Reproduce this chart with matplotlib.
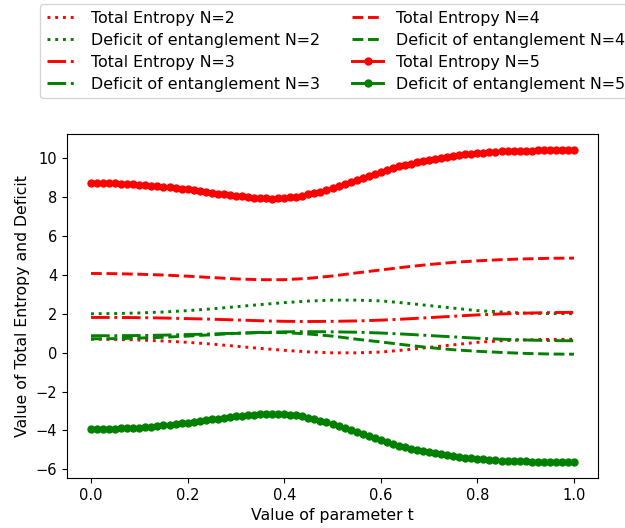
import matplotlib
matplotlib.use("Agg")
import matplotlib.pyplot as plt
import numpy as np

# parametr t (co 0.05 dla linii, co 0.0125 dla serii z markerami)
t = np.linspace(0, 1, 21)
t_fine = np.linspace(0, 1, 81)

total_n2 = [0.69, 0.68, 0.65, 0.60, 0.53, 0.44, 0.33, 0.22, 0.12, 0.04, -0.01,
            -0.01, 0.03, 0.14, 0.27, 0.40, 0.53, 0.61, 0.66, 0.68, 0.69]
deficit_n2 = [2.00, 2.01, 2.04, 2.09, 2.16, 2.25, 2.36, 2.47, 2.57, 2.65, 2.70,
              2.70, 2.66, 2.55, 2.42, 2.29, 2.16, 2.09, 2.03, 2.01, 2.00]

total_n3 = [1.81, 1.81, 1.80, 1.78, 1.75, 1.72, 1.68, 1.64, 1.61, 1.60, 1.61,
            1.63, 1.67, 1.73, 1.80, 1.87, 1.94, 1.99, 2.03, 2.06, 2.07]
deficit_n3 = [0.87, 0.87, 0.88, 0.90, 0.93, 0.96, 1.00, 1.04, 1.07, 1.08, 1.07,
              1.05, 1.01, 0.95, 0.88, 0.81, 0.74, 0.69, 0.65, 0.62, 0.61]

total_n4 = [4.07, 4.06, 4.03, 3.99, 3.93, 3.86, 3.79, 3.75, 3.75, 3.82, 3.94,
            4.10, 4.25, 4.40, 4.53, 4.64, 4.72, 4.78, 4.82, 4.85, 4.86]
deficit_n4 = [0.71, 0.72, 0.75, 0.79, 0.85, 0.92, 0.99, 1.03, 1.03, 0.96, 0.85,
              0.69, 0.55, 0.40, 0.26, 0.15, 0.07, 0.01, -0.04, -0.07, -0.08]

total_n5 = [8.72, 8.72, 8.71, 8.71, 8.70, 8.68, 8.67, 8.66, 8.64, 8.61,
            8.59, 8.56, 8.53, 8.50, 8.46, 8.43, 8.39, 8.35, 8.31, 8.26,
            8.22, 8.18, 8.14, 8.10, 8.06, 8.03, 8.00, 7.97, 7.95, 7.93,
            7.92, 7.93, 7.95, 7.98, 8.02, 8.07, 8.13, 8.20, 8.28, 8.38,
            8.48, 8.58, 8.68, 8.79, 8.89, 8.99, 9.10, 9.20, 9.30, 9.39,
            9.48, 9.57, 9.65, 9.72, 9.79, 9.86, 9.92, 9.97, 10.02, 10.07,
            10.11, 10.15, 10.19, 10.22, 10.25, 10.28, 10.30, 10.32, 10.34, 10.35,
            10.36, 10.37, 10.38, 10.39, 10.40, 10.41, 10.41, 10.42, 10.42, 10.43,
            10.43]
deficit_n5 = [-3.93, -3.93, -3.92, -3.92, -3.91, -3.89, -3.88, -3.87, -3.85, -3.82,
              -3.80, -3.77, -3.74, -3.71, -3.67, -3.64, -3.60, -3.56, -3.52, -3.47,
              -3.43, -3.39, -3.35, -3.31, -3.27, -3.24, -3.21, -3.18, -3.16, -3.14,
              -3.13, -3.14, -3.16, -3.19, -3.23, -3.28, -3.34, -3.41, -3.49, -3.59,
              -3.69, -3.79, -3.89, -4.00, -4.10, -4.20, -4.31, -4.41, -4.51, -4.60,
              -4.69, -4.78, -4.86, -4.93, -5.00, -5.07, -5.13, -5.18, -5.23, -5.28,
              -5.32, -5.36, -5.40, -5.43, -5.46, -5.49, -5.51, -5.53, -5.55, -5.56,
              -5.57, -5.58, -5.59, -5.60, -5.61, -5.62, -5.62, -5.63, -5.63, -5.64,
              -5.64]

lw = 2.1
ms = 5

fig = plt.figure(figsize=(6.25, 5.28), dpi=100)
ax = fig.add_axes([0.107, 0.0947, 0.85, 0.6513])

ax.plot(t, total_n2, 'r:', lw=lw, label='Total Entropy N=2')
ax.plot(t, deficit_n2, 'g:', lw=lw, label='Deficit of entanglement N=2')
ax.plot(t, total_n3, 'r-.', lw=lw, label='Total Entropy N=3')
ax.plot(t, deficit_n3, 'g-.', lw=lw, label='Deficit of entanglement N=3')
ax.plot(t, total_n4, 'r--', lw=lw, label='Total Entropy N=4')
ax.plot(t, deficit_n4, 'g--', lw=lw, label='Deficit of entanglement N=4')
ax.plot(t_fine, total_n5, 'r-', lw=lw, marker='o', markersize=ms, label='Total Entropy N=5')
ax.plot(t_fine, deficit_n5, 'g-', lw=lw, marker='o', markersize=ms, label='Deficit of entanglement N=5')

ax.set_xlabel('Value of parameter t', fontsize=11.3)
ax.set_ylabel('Value of Total Entropy and Deficit', fontsize=11.3)
ax.tick_params(labelsize=10.5)

# legenda nad osiami, prawa krawedz lekko wychodzi poza obrazek jak w oryginale
fig.legend(*ax.get_legend_handles_labels(), ncol=2, loc='upper left',
           fontsize=11.4, labelspacing=0.45, borderaxespad=0,
           bbox_to_anchor=(0.0645, 0.992), bbox_transform=fig.transFigure)

fig.savefig('out.png', dpi=100)
